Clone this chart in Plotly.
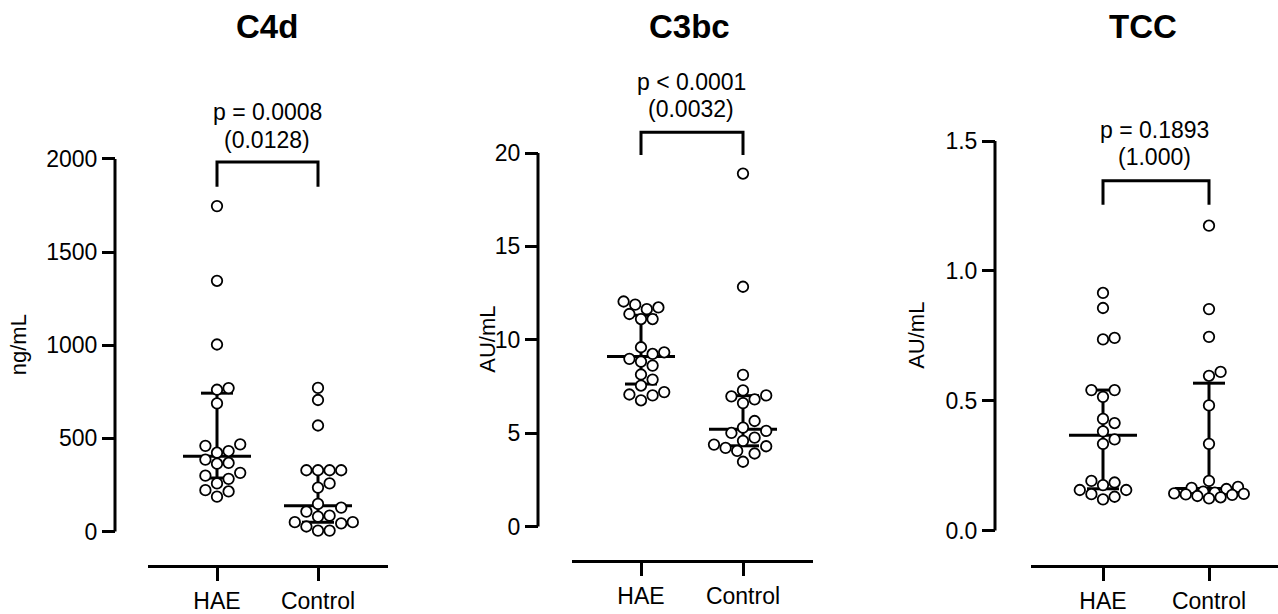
import numpy as np
import plotly.graph_objects as go

W, H = 1278, 614
FONT = "Liberation Sans, Arial, Helvetica, sans-serif"

groups = ["HAE", "Control"]

# ---- data ----
c4d_hae = [1747, 1346, 1004, 770, 761, 688, 468, 460, 432, 423, 386, 368, 364,
           315, 300, 283, 258, 222, 215, 187]
c4d_control = [771, 706, 569, 329, 329, 329, 329, 258, 236, 148, 128, 107, 85,
               80, 50, 50, 44, 27, 5, 5]
c3bc_hae = [12.05, 11.88, 11.73, 11.64, 11.38, 11.11, 11.11, 9.60, 9.33, 9.24,
            8.98, 8.83, 8.62, 8.14, 7.87, 7.55, 7.20, 7.07, 7.02, 6.76]
c3bc_control = [18.9, 12.84, 8.12, 7.29, 7.02, 6.97, 6.81, 6.61, 5.65, 5.30,
                5.12, 5.01, 4.76, 4.59, 4.39, 4.30, 4.21, 4.05, 3.91, 3.47]
tcc_hae = [0.915, 0.857, 0.742, 0.736, 0.541, 0.541, 0.515, 0.430, 0.414, 0.382,
           0.351, 0.334, 0.191, 0.185, 0.175, 0.156, 0.156, 0.140, 0.130, 0.120]
tcc_control = [1.174, 0.853, 0.746, 0.611, 0.596, 0.482, 0.334, 0.191, 0.168,
               0.164, 0.160, 0.150, 0.146, 0.143, 0.141, 0.139, 0.137, 0.133,
               0.128, 0.124]

c4d_ticks = [0, 500, 1000, 1500, 2000]
c4d_ticktext = ["0", "500", "1000", "1500", "2000"]
c3bc_ticks = [0, 5, 10, 15, 20]
c3bc_ticktext = ["0", "5", "10", "15", "20"]
tcc_ticks = [0, 0.5, 1.0, 1.5]
tcc_ticktext = ["0.0", "0.5", "1.0", "1.5"]

titles = ["C4d", "C3bc", "TCC"]
units = ["ng/mL", "AU/mL", "AU/mL"]
p_main = ["p = 0.0008", "p < 0.0001", "p = 0.1893"]
p_adj = ["(0.0128)", "(0.0032)", "(1.000)"]

# ---- layout geometry (pixels) ----
geom = [
    dict(zero_px=535, top_px=160, yaxis_x=115, hae_px=217, ctl_px=318,
         xl=148, xr=388, xaxis_y=569, title_x=267, p_x=267, p_y1=113, p_y2=141,
         br_y=163, br_bot=188, ylab_x=18),
    dict(zero_px=530, top_px=154, yaxis_x=538, hae_px=641, ctl_px=743,
         xl=572, xr=813, xaxis_y=564, title_x=689, p_x=691, p_y1=83, p_y2=110,
         br_y=133, br_bot=156, ylab_x=488),
    dict(zero_px=534, top_px=142, yaxis_x=995, hae_px=1103, ctl_px=1209,
         xl=1031, xr=1278, xaxis_y=569, title_x=1143, p_x=1154, p_y1=131, p_y2=158,
         br_y=182, br_bot=206, ylab_x=917),
]

panels = [
    dict(vals=[c4d_hae, c4d_control], ticks=c4d_ticks, ticktext=c4d_ticktext),
    dict(vals=[c3bc_hae, c3bc_control], ticks=c3bc_ticks, ticktext=c3bc_ticktext),
    dict(vals=[tcc_hae, tcc_control], ticks=tcc_ticks, ticktext=tcc_ticktext),
]


def swarm(values, py_per_unit, px_per_unit, d=11.0, step=5.8, max_off=35.0):
    """Beeswarm offsets (in x data units), width capped like GraphPad."""
    v = np.asarray(values, dtype=float)
    order = np.argsort(v)
    placed = []
    offs = np.zeros(len(v))
    cands = [0]
    j = 1
    while j * step <= max_off:
        cands += [j, -j]
        j += 1
    for i in order:
        y = v[i] * py_per_unit
        best, best_d = 0.0, -1.0
        chosen = None
        for c in cands:
            x = c * step
            md = min([np.hypot(x - a, y - b) for a, b in placed] or [1e9])
            if md >= d:
                chosen = x
                break
            if md > best_d + 1e-9:
                best, best_d = x, md
        if chosen is None:
            chosen = best
        placed.append((chosen, y))
        offs[i] = chosen / px_per_unit
    return offs


fig = go.Figure()
shapes = []
annotations = []
layout = {}

for i, (P, G) in enumerate(zip(panels, geom)):
    xa = "x" if i == 0 else f"x{i + 1}"
    ya = "y" if i == 0 else f"y{i + 1}"
    xname = "xaxis" if i == 0 else f"xaxis{i + 1}"
    yname = "yaxis" if i == 0 else f"yaxis{i + 1}"

    top_val = P["ticks"][-1]
    k = (G["zero_px"] - G["top_px"]) / top_val          # px per y unit
    ylo = -(G["xaxis_y"] - G["zero_px"]) / k
    yhi = G["zero_px"] / k
    xunit = G["ctl_px"] - G["hae_px"]                     # px per x unit
    xlo = -(G["hae_px"] - G["xl"]) / xunit
    xhi = (G["xr"] - G["hae_px"]) / xunit

    def py2val(p, k=k, G=G):
        return (G["zero_px"] - p) / k

    for g, vals in enumerate(P["vals"]):
        arr = np.asarray(vals, dtype=float)
        med = np.median(arr)
        q1, q3 = np.percentile(arr, [25, 75], method="weibull")
        mw = 34 / xunit
        cw = 16 / xunit
        lx = [g - mw, g + mw, None, g, g, None, g - cw, g + cw, None, g - cw, g + cw]
        ly = [med, med, None, q1, q3, None, q1, q1, None, q3, q3]
        fig.add_trace(go.Scatter(x=lx, y=ly, mode="lines", xaxis=xa, yaxis=ya,
                                 line=dict(color="black", width=3),
                                 hoverinfo="skip", showlegend=False))
        offs = swarm(arr, k, xunit)
        fig.add_trace(go.Scatter(x=g + offs, y=arr, mode="markers", xaxis=xa, yaxis=ya,
                                 marker=dict(size=10.5, color="white",
                                             line=dict(color="black", width=1.8)),
                                 cliponaxis=False, showlegend=False,
                                 name=groups[g]))

    layout[xname] = dict(domain=[G["xl"] / W, min(G["xr"] / W, 1.0)], range=[xlo, xhi],
                         anchor=ya, tickmode="array", tickvals=[0, 1], ticktext=groups,
                         showline=True, linewidth=3, linecolor="black",
                         ticks="outside", ticklen=13, tickwidth=3, tickcolor="black",
                         showgrid=False, zeroline=False, fixedrange=True,
                         tickfont=dict(family=FONT, size=23, color="black"))
    layout[yname] = dict(domain=[1 - G["xaxis_y"] / H, 1], range=[ylo, yhi],
                         anchor="free", position=G["yaxis_x"] / W,
                         tickmode="array", tickvals=P["ticks"], ticktext=P["ticktext"],
                         showline=False, ticks="outside", ticklen=13, tickwidth=3,
                         tickcolor="black", showgrid=False, zeroline=False,
                         fixedrange=True,
                         tickfont=dict(family=FONT, size=23, color="black"))

    # y axis line spanning 0..top tick
    shapes.append(dict(type="line", xref="paper", yref=ya,
                       x0=G["yaxis_x"] / W, x1=G["yaxis_x"] / W,
                       y0=0, y1=top_val, line=dict(color="black", width=3)))
    # significance bracket
    by = py2val(G["br_y"])
    bb = py2val(G["br_bot"])
    shapes.append(dict(type="path", xref=xa, yref=ya,
                       path=f"M 0,{bb} L 0,{by} L 1,{by} L 1,{bb}",
                       line=dict(color="black", width=3)))

    annotations.append(dict(text=f"<b>{titles[i]}</b>", xref="paper", yref="paper",
                            x=G["title_x"] / W, y=1 - 27 / H, showarrow=False,
                            xanchor="center", yanchor="middle",
                            font=dict(family=FONT, size=33, color="black")))
    annotations.append(dict(text=p_main[i], xref="paper", yref="paper",
                            x=G["p_x"] / W, y=1 - G["p_y1"] / H, showarrow=False,
                            xanchor="center", yanchor="middle",
                            font=dict(family=FONT, size=23, color="black")))
    annotations.append(dict(text=p_adj[i], xref="paper", yref="paper",
                            x=G["p_x"] / W, y=1 - G["p_y2"] / H, showarrow=False,
                            xanchor="center", yanchor="middle",
                            font=dict(family=FONT, size=23, color="black")))
    annotations.append(dict(text=units[i], xref="paper", yref=ya,
                            x=G["ylab_x"] / W, y=top_val / 2, showarrow=False,
                            textangle=-90, xanchor="center", yanchor="middle",
                            font=dict(family=FONT, size=22, color="black")))

fig.update_layout(width=W, height=H, autosize=False,
                  margin=dict(l=0, r=0, t=0, b=0, pad=0),
                  paper_bgcolor="white", plot_bgcolor="white",
                  shapes=shapes, annotations=annotations, showlegend=False,
                  font=dict(family=FONT, color="black"), **layout)

fig.write_html("out.html", config={"displayModeBar": False})
